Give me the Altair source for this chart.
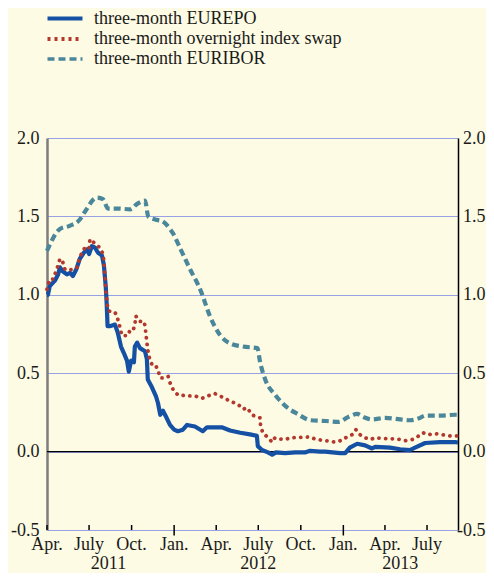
import altair as alt
import pandas as pd

# ---------------- data ----------------
series_names = ["three-month EUREPO", "three-month overnight index swap", "three-month EURIBOR"]

repo_dates = ["2011-04-01", "2011-04-03", "2011-04-07", "2011-04-18", "2011-04-25", "2011-04-29",
              "2011-05-05", "2011-05-14", "2011-05-21", "2011-05-27", "2011-06-03", "2011-06-11",
              "2011-06-20", "2011-06-27", "2011-07-01", "2011-07-07", "2011-07-14", "2011-07-20",
              "2011-07-29", "2011-08-02", "2011-08-06", "2011-08-08", "2011-08-10", "2011-08-15",
              "2011-08-26", "2011-09-01", "2011-09-08", "2011-09-14", "2011-09-21", "2011-09-25",
              "2011-09-30", "2011-10-06", "2011-10-08", "2011-10-13", "2011-10-19", "2011-10-30",
              "2011-11-03", "2011-11-05", "2011-11-14", "2011-11-23", "2011-11-27", "2011-12-02",
              "2011-12-08", "2011-12-14", "2011-12-23", "2012-01-01", "2012-01-09", "2012-01-20",
              "2012-01-29", "2012-02-15", "2012-03-03", "2012-03-12", "2012-03-29", "2012-04-13",
              "2012-05-01", "2012-05-23", "2012-06-13", "2012-06-28", "2012-06-30", "2012-07-09",
              "2012-07-22", "2012-07-31", "2012-08-08", "2012-08-28", "2012-09-19", "2012-10-10",
              "2012-10-21", "2012-11-11", "2012-11-22", "2012-12-25", "2013-01-05", "2013-01-15",
              "2013-01-31", "2013-02-17", "2013-03-04", "2013-03-11", "2013-04-12", "2013-05-04",
              "2013-05-25", "2013-06-05", "2013-06-27", "2013-07-29", "2013-08-31", "2013-09-06"]
repo_vals = [1.00, 1.00, 1.055, 1.09, 1.13, 1.175,
             1.15, 1.13, 1.14, 1.12, 1.16, 1.23,
             1.27, 1.29, 1.26, 1.31, 1.30, 1.27,
             1.25, 1.19, 1.055, 0.95, 0.80, 0.80,
             0.81, 0.76, 0.67, 0.63, 0.58, 0.51,
             0.58, 0.57, 0.67, 0.695, 0.66, 0.64,
             0.59, 0.46, 0.41, 0.35, 0.31, 0.235,
             0.26, 0.225, 0.17, 0.14, 0.13, 0.14,
             0.17, 0.16, 0.13, 0.155, 0.155, 0.155,
             0.135, 0.12, 0.11, 0.10, 0.035, 0.01,
             -0.005, -0.02, -0.005, -0.01, -0.005, -0.005,
             0.005, 0.0, 0.0, -0.01, -0.01, 0.025,
             0.05, 0.04, 0.02, 0.03, 0.025, 0.015,
             0.01, 0.025, 0.055, 0.06, 0.06, 0.058]

ois_dates = ["2011-04-01", "2011-04-07", "2011-04-14", "2011-04-22", "2011-04-29", "2011-05-05",
             "2011-05-10", "2011-05-21", "2011-05-27", "2011-06-05", "2011-06-11", "2011-06-18",
             "2011-06-24", "2011-07-01", "2011-07-03", "2011-07-09", "2011-07-16", "2011-07-25",
             "2011-07-31", "2011-08-02", "2011-08-04", "2011-08-06", "2011-08-09", "2011-08-11",
             "2011-08-15", "2011-08-26", "2011-09-01", "2011-09-06", "2011-09-10", "2011-09-17",
             "2011-09-23", "2011-09-27", "2011-10-04", "2011-10-08", "2011-10-10", "2011-10-19",
             "2011-10-28", "2011-10-30", "2011-11-01", "2011-11-03", "2011-11-07", "2011-11-14",
             "2011-11-21", "2011-11-27", "2011-12-02", "2011-12-12", "2011-12-19", "2011-12-23",
             "2011-12-27", "2012-01-03", "2012-01-14", "2012-01-24", "2012-02-04", "2012-02-15",
             "2012-03-01", "2012-03-14", "2012-03-29", "2012-04-09", "2012-04-20", "2012-05-01",
             "2012-05-12", "2012-05-23", "2012-05-29", "2012-06-07", "2012-06-17", "2012-06-28",
             "2012-07-05", "2012-07-06", "2012-07-11", "2012-07-18", "2012-07-26", "2012-07-31",
             "2012-08-06", "2012-08-17", "2012-08-28", "2012-09-08", "2012-09-29", "2012-10-21",
             "2012-11-01", "2012-11-16", "2012-12-03", "2012-12-14", "2012-12-29", "2013-01-11",
             "2013-01-20", "2013-01-28", "2013-02-06", "2013-02-17", "2013-02-28", "2013-03-11",
             "2013-04-01", "2013-04-23", "2013-05-04", "2013-05-15", "2013-05-30", "2013-06-12",
             "2013-06-23", "2013-07-03", "2013-07-18", "2013-08-03", "2013-08-20", "2013-09-06"]
ois_vals = [1.035, 1.10, 1.10, 1.16, 1.23, 1.21,
            1.16, 1.16, 1.16, 1.175, 1.24, 1.28,
            1.31, 1.30, 1.355, 1.34, 1.32, 1.30,
            1.26, 1.215, 1.13, 1.035, 0.95, 0.90,
            0.895, 0.89, 0.845, 0.79, 0.74, 0.74,
            0.74, 0.77, 0.77, 0.81, 0.865, 0.83,
            0.83, 0.80, 0.75, 0.695, 0.61, 0.555,
            0.555, 0.52, 0.47, 0.47, 0.48, 0.44,
            0.41, 0.375, 0.355, 0.36, 0.355, 0.355,
            0.34, 0.355, 0.37, 0.355, 0.34, 0.32,
            0.31, 0.29, 0.27, 0.28, 0.235, 0.22,
            0.215, 0.16, 0.12, 0.10, 0.077, 0.06,
            0.088, 0.08, 0.077, 0.088, 0.09, 0.094,
            0.08, 0.072, 0.066, 0.06, 0.072, 0.098,
            0.108, 0.14, 0.108, 0.088, 0.077, 0.088,
            0.083, 0.08, 0.077, 0.07, 0.077, 0.098,
            0.12, 0.108, 0.115, 0.108, 0.10, 0.10]

euribor_dates = ["2011-04-01", "2011-04-29", "2011-05-20", "2011-06-11", "2011-06-22", "2011-07-18",
                 "2011-07-31", "2011-08-11", "2011-09-02", "2011-09-28", "2011-10-13", "2011-10-30",
                 "2011-11-06", "2011-11-21", "2011-12-06", "2011-12-23", "2011-12-30", "2012-01-15",
                 "2012-02-05", "2012-02-27", "2012-03-19", "2012-04-10", "2012-05-01", "2012-05-29",
                 "2012-06-29", "2012-07-05", "2012-07-16", "2012-08-07", "2012-08-29", "2012-09-24",
                 "2012-10-22", "2012-11-24", "2012-12-22", "2013-01-11", "2013-01-31", "2013-02-14",
                 "2013-03-04", "2013-04-01", "2013-05-04", "2013-05-25", "2013-06-16", "2013-06-27",
                 "2013-07-29", "2013-09-01", "2013-09-06"]
euribor_vals = [1.28, 1.42, 1.44, 1.48, 1.53, 1.62,
                1.61, 1.55, 1.55, 1.545, 1.58, 1.60,
                1.50, 1.48, 1.47, 1.42, 1.39, 1.29,
                1.16, 1.03, 0.86, 0.74, 0.69, 0.67,
                0.66, 0.57, 0.46, 0.36, 0.29, 0.24,
                0.20, 0.195, 0.19, 0.22, 0.24, 0.22,
                0.205, 0.215, 0.205, 0.20, 0.215, 0.23,
                0.23, 0.235, 0.235]

quarter_dates = ["2011-04-01", "2011-07-01", "2011-10-01", "2012-01-01", "2012-04-01",
                 "2012-07-01", "2012-10-01", "2013-01-01", "2013-04-01", "2013-07-01"]
month_labels = ["Apr.", "July", "Oct.", "Jan.", "Apr.", "July", "Oct.", "Jan.", "Apr.", "July"]
year_labels = ["2011", "2012", "2013"]
year_label_dates = ["2011-08-12", "2012-07-01", "2013-05-04"]
y_ticks = [-0.5, 0.0, 0.5, 1.0, 1.5, 2.0]
x_domain = ["2011-04-01", "2013-09-06"]

# ---------------- styling ----------------
FONT = "Liberation Serif"
TXT = "#1a1a1a"
BG = "#fdfbe4"
GRID = "#97a1e4"
colors = ["#1450a3", "#b3382e", "#4a879b"]
dashes = [[1, 0], [3, 4], [7, 4]]
widths = [4.2, 3.5, 4.2]

frames = []
for name, d, v in [(series_names[0], repo_dates, repo_vals),
                   (series_names[1], ois_dates, ois_vals),
                   (series_names[2], euribor_dates, euribor_vals)]:
    frames.append(pd.DataFrame({"date": d, "value": v, "series": name}))
df = pd.concat(frames, ignore_index=True)

ticks_df = pd.DataFrame({
    "date": quarter_dates,
    "y0": [-0.535 if q.endswith("01-01") else -0.5 for q in quarter_dates],
    "y1": [-0.468] * len(quarter_dates),
})
months_df = pd.DataFrame({"date": quarter_dates, "label": month_labels})
years_df = pd.DataFrame({"date": year_label_dates, "label": year_labels})

xscale = alt.Scale(type="utc", domain=x_domain, nice=False)
yscale = alt.Scale(domain=[-0.5, 2.0], nice=False, zero=False)

ylab = "datum.value < 0 ? '-' + format(-datum.value, '.1f') : format(datum.value, '.1f')"

x_axis = alt.Axis(values=quarter_dates, grid=True, gridColor=GRID, gridWidth=1.2,
                  ticks=False, labels=False, domainColor="black", domainWidth=1.5,
                  title=None)
y_axis_left = alt.Axis(values=y_ticks, grid=True, gridColor=GRID, gridWidth=1.2, ticks=False,
                       domainColor="#7d7d7d", domainWidth=2.5, labelExpr=ylab,
                       labelFont=FONT, labelFontSize=18, labelColor=TXT, labelPadding=8,
                       title=None, orient="left")
y_axis_right = alt.Axis(values=y_ticks, grid=False, ticks=False, domainColor="black",
                        domainWidth=1.5, labelExpr=ylab, labelAlign="right",
                        labelFont=FONT, labelFontSize=18, labelColor=TXT, labelPadding=27,
                        title=None, orient="right")

color_enc = alt.Color("series:N", scale=alt.Scale(domain=series_names, range=colors),
                      legend=alt.Legend(orient="none", legendX=-2, legendY=-129, title=None,
                                        labelFont=FONT, labelFontSize=18, labelColor=TXT,
                                        labelLimit=0,
                                        symbolType="M-1,0H4", symbolSize=196, labelOffset=30,
                                        rowPadding=2, padding=0))

zero = alt.Chart(pd.DataFrame({"y": [0.0]})).mark_rule(color="black", strokeWidth=1.3).encode(
    y=alt.Y("y:Q", scale=yscale, axis=y_axis_left)
)

base = alt.Chart(df)

line_euribor = base.transform_filter(alt.datum.series == series_names[2]).mark_line(
    strokeWidth=widths[2], strokeDash=dashes[2], strokeCap="butt", interpolate="monotone"
).encode(
    x=alt.X("date:T", scale=xscale, axis=x_axis),
    y=alt.Y("value:Q", scale=yscale, axis=None),
    color=color_enc,
)
line_repo = base.transform_filter(alt.datum.series == series_names[0]).mark_line(
    strokeWidth=widths[0], strokeJoin="round"
).encode(
    x=alt.X("date:T", scale=xscale, axis=None),
    y=alt.Y("value:Q", scale=yscale, axis=None),
    color=alt.Color("series:N"),
)
line_ois = base.transform_filter(alt.datum.series == series_names[1]).mark_line(
    strokeWidth=3.8, strokeDash=[0.1, 6.6], strokeCap="round"
).encode(
    x=alt.X("date:T", scale=xscale, axis=None),
    y=alt.Y("value:Q", scale=yscale, axis=None),
    color=alt.Color("series:N"),
)
# legend carrier: no rows, only supplies dash/width for the merged legend
legend_layer = base.transform_filter("datum.value > 100").mark_line().encode(
    x=alt.X("date:T", scale=xscale, axis=None),
    y=alt.Y("value:Q", scale=yscale, axis=None),
    color=alt.Color("series:N"),
    strokeDash=alt.StrokeDash("series:N", scale=alt.Scale(domain=series_names, range=dashes)),
    strokeWidth=alt.StrokeWidth("series:N", scale=alt.Scale(domain=series_names, range=widths)),
)

tick_rules = alt.Chart(ticks_df).mark_rule(color="black", strokeWidth=1.5).encode(
    x=alt.X("date:T", scale=xscale, axis=None),
    y=alt.Y("y0:Q", scale=yscale, axis=None),
    y2="y1:Q",
)
month_text = alt.Chart(months_df).mark_text(font=FONT, fontSize=18, color=TXT, dy=15).encode(
    x=alt.X("date:T", scale=xscale, axis=None),
    y=alt.YDatum(-0.5, scale=yscale, axis=None),
    text="label:N",
)
year_text = alt.Chart(years_df).mark_text(font=FONT, fontSize=18, color=TXT, dy=34).encode(
    x=alt.X("date:T", scale=xscale, axis=None),
    y=alt.YDatum(-0.5, scale=yscale, axis=None),
    text="label:N",
)
right_axis = alt.Chart(pd.DataFrame({"y": [0.0]})).mark_rule(opacity=0).encode(
    y=alt.Y("y:Q", scale=yscale, axis=y_axis_right)
)

chart = alt.layer(
    zero, line_euribor, line_repo, line_ois, legend_layer, tick_rules, month_text, year_text,
    right_axis
).resolve_axis(y="independent").properties(
    width=411, height=392,
    background=BG,
    autosize=alt.AutoSizeParams(type="none"),
    padding={"left": 39, "top": 130, "right": 28, "bottom": 43},
).configure_view(stroke=None)

chart.save("out.html", embed_options={"renderer": "svg", "actions": False})
